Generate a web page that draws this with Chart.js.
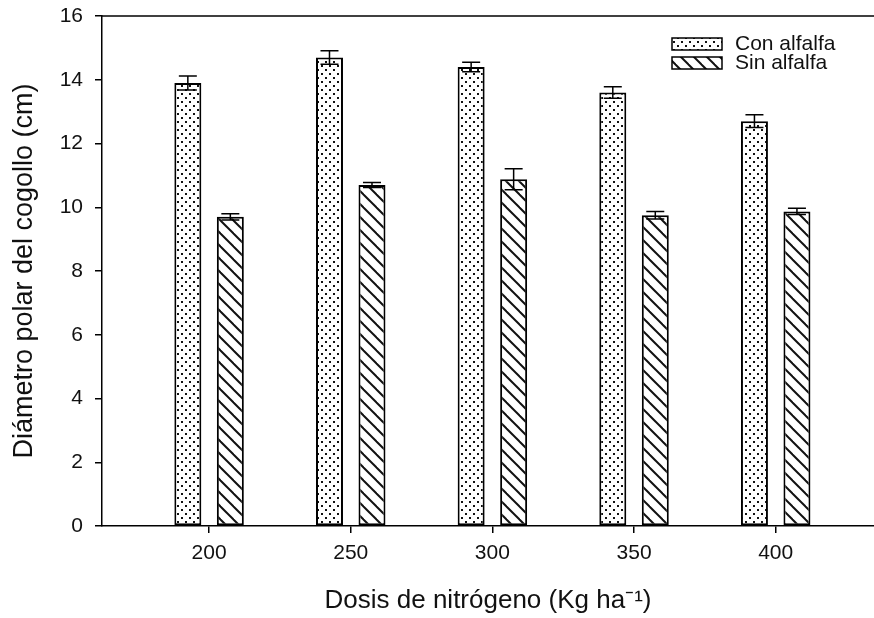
<!DOCTYPE html>
<html lang="es">
<head>
  <meta charset="UTF-8" />
  <title>Diámetro polar del cogollo</title>
  <script src="https://cdn.jsdelivr.net/npm/chart.js"></script>
  <style>
    body { margin: 0; background: #fff; }
    #wrap { width: 874px; height: 618px; position: relative; }
  </style>
</head>
<body>
  <div id="wrap"><canvas id="grafica"></canvas></div>
  <script>
    // datos
    const dosis = [200, 250, 300, 350, 400];
    const conAlfalfa = [13.9, 14.7, 14.4, 13.6, 12.7];
    const errCon = [0.22, 0.21, 0.15, 0.18, 0.2];
    const sinAlfalfa = [9.7, 10.7, 10.88, 9.75, 9.87];
    const errSin = [0.1, 0.08, 0.33, 0.12, 0.1];
    const yTicks = [0, 2, 4, 6, 8, 10, 12, 14, 16];

    const fuente = "'Liberation Sans', Arial, sans-serif";

    function puntos() {
      const c = document.createElement('canvas');
      c.width = 8; c.height = 8;
      const g = c.getContext('2d');
      g.fillStyle = '#fff'; g.fillRect(0, 0, 8, 8);
      g.fillStyle = '#111';
      g.fillRect(1, 1, 2, 2);
      g.fillRect(5, 5, 2, 2);
      return g.createPattern(c, 'repeat');
    }

    function rayas() {
      const s = 13;
      const c = document.createElement('canvas');
      c.width = s; c.height = s;
      const g = c.getContext('2d');
      g.fillStyle = '#fff'; g.fillRect(0, 0, s, s);
      g.strokeStyle = '#111'; g.lineWidth = 2;
      for (const k of [-1, 0, 1]) {
        g.beginPath();
        g.moveTo(-2, -2 + k * s);
        g.lineTo(s + 2, s + 2 + k * s);
        g.stroke();
      }
      return g.createPattern(c, 'repeat');
    }

    const patCon = puntos();
    const patSin = rayas();

    const errores = [errCon, errSin];

    const barrasError = {
      id: 'barrasError',
      afterDatasetsDraw(chart) {
        const ctx = chart.ctx;
        const y = chart.scales.y;
        ctx.save();
        ctx.strokeStyle = '#000';
        ctx.lineWidth = 1.5;
        chart.data.datasets.forEach((ds, i) => {
          const meta = chart.getDatasetMeta(i);
          meta.data.forEach((bar, j) => {
            const v = ds.data[j].y;
            const e = errores[i][j];
            const top = y.getPixelForValue(v + e);
            const bot = y.getPixelForValue(v - e);
            const w = 9;
            ctx.beginPath();
            ctx.moveTo(bar.x, top); ctx.lineTo(bar.x, bot);
            ctx.moveTo(bar.x - w, top); ctx.lineTo(bar.x + w, top);
            ctx.moveTo(bar.x - w, bot); ctx.lineTo(bar.x + w, bot);
            ctx.stroke();
          });
        });
        ctx.restore();
      }
    };

    const marco = {
      id: 'marco',
      afterDraw(chart) {
        const { ctx, chartArea } = chart;
        ctx.save();
        ctx.strokeStyle = '#000';
        ctx.lineWidth = 1.5;
        ctx.beginPath();
        ctx.moveTo(chartArea.left, chartArea.top);
        ctx.lineTo(chartArea.right, chartArea.top);
        ctx.stroke();
        ctx.restore();
      }
    };

    const leyenda = {
      id: 'leyenda',
      afterDraw(chart) {
        const { ctx, chartArea } = chart;
        const x0 = chartArea.right - 202;
        let y0 = chartArea.top + 22;
        ctx.save();
        ctx.font = '21px ' + fuente;
        ctx.textBaseline = 'middle';
        chart.data.datasets.forEach(ds => {
          ctx.fillStyle = ds.backgroundColor;
          ctx.fillRect(x0, y0, 50, 12);
          ctx.strokeStyle = '#000';
          ctx.lineWidth = 1.5;
          ctx.strokeRect(x0, y0, 50, 12);
          ctx.fillStyle = '#111';
          ctx.fillText(ds.label, x0 + 63, y0 + 6);
          y0 += 19;
        });
        ctx.restore();
      }
    };

    new Chart(document.getElementById('grafica'), {
      type: 'bar',
      data: {
        datasets: [
          {
            label: 'Con alfalfa',
            data: dosis.map((d, i) => ({ x: d, y: conAlfalfa[i] })),
            backgroundColor: patCon,
            borderColor: '#000',
            borderWidth: 2,
            borderSkipped: false
          },
          {
            label: 'Sin alfalfa',
            data: dosis.map((d, i) => ({ x: d, y: sinAlfalfa[i] })),
            backgroundColor: patSin,
            borderColor: '#000',
            borderWidth: 2,
            borderSkipped: false
          }
        ]
      },
      options: {
        responsive: true,
        maintainAspectRatio: false,
        animation: false,
        devicePixelRatio: 1,
        categoryPercentage: 0.6,
        barPercentage: 0.635,
        layout: { padding: { top: 16, right: 0, left: 0, bottom: 0 } },
        plugins: {
          legend: { display: false },
          tooltip: { enabled: false }
        },
        scales: {
          x: {
            type: 'linear',
            min: 162.2,
            max: 434.7,
            offset: false,
            afterBuildTicks: s => { s.ticks = dosis.map(v => ({ value: v })); },
            afterFit: s => { s.height = 92; s.paddingLeft = 0; s.paddingRight = 0; },
            grid: { display: true, offset: false, drawOnChartArea: false, drawTicks: true, tickLength: 7, color: '#000', lineWidth: 1.5 },
            border: { display: true, color: '#000', width: 1.5 },
            ticks: { color: '#111', font: { family: fuente, size: 21 }, padding: 8, maxRotation: 0 },
            title: {
              display: true,
              text: 'Dosis de nitrógeno (Kg ha⁻¹)',
              color: '#111',
              font: { family: fuente, size: 26 },
              padding: { top: 0, bottom: 2 }
            }
          },
          y: {
            min: 0,
            max: 16,
            afterBuildTicks: s => { s.ticks = yTicks.map(v => ({ value: v })); },
            afterFit: s => { s.width = 102; s.paddingTop = 0; s.paddingBottom = 0; },
            grid: { display: true, drawOnChartArea: false, drawTicks: true, tickLength: 7, color: '#000', lineWidth: 1.5 },
            border: { display: true, color: '#000', width: 1.5 },
            ticks: { color: '#111', font: { family: fuente, size: 21 }, padding: 12 },
            title: {
              display: true,
              text: 'Diámetro polar del cogollo (cm)',
              color: '#111',
              font: { family: fuente, size: 27 },
              padding: { top: 8, bottom: 0 }
            }
          }
        }
      },
      plugins: [barrasError, marco, leyenda]
    });
  </script>
</body>
</html>
